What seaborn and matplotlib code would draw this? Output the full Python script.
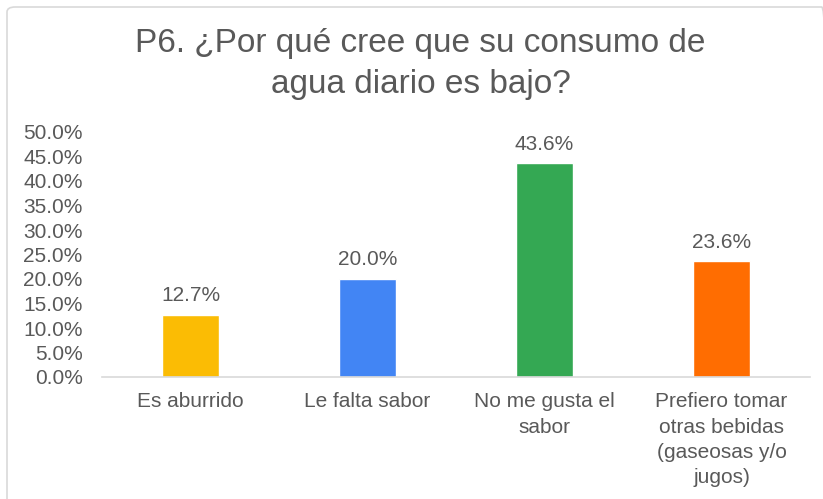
import matplotlib
matplotlib.use("Agg")
import matplotlib.pyplot as plt
import seaborn as sns
import pandas as pd
from matplotlib.patches import FancyBboxPatch

categories = ["Es aburrido", "Le falta sabor", "No me gusta el\nsabor",
              "Prefiero tomar\notras bebidas\n(gaseosas y/o\njugos)"]
values = [12.7, 20.0, 43.6, 23.6]
colors = ["#FBBC04", "#4285F4", "#34A853", "#FF6D01"]
title = "P6. ¿Por qué cree que su consumo de\nagua diario es bajo?"

sns.set_style("white")
plt.rcParams["font.family"] = ["Liberation Sans", "DejaVu Sans"]
gray = "#595959"

df = pd.DataFrame({"cat": categories, "val": values})
fig = plt.figure(figsize=(8.23, 4.99), dpi=100)
ax = fig.add_axes([102/823, 1 - 377/499, (810-102)/823, (377-132)/499])
sns.barplot(data=df, x="cat", y="val", hue="cat", palette=colors, legend=False,
            width=0.32, ax=ax, saturation=1)
ax.set_ylim(0, 50)
ax.set_xlim(-0.5, 3.5)
ax.set_yticks([i * 5 for i in range(11)])
ax.set_yticklabels([f"{i*5:.1f}%" for i in range(11)])
ax.tick_params(axis="y", length=0, labelsize=15, labelcolor=gray, pad=14)
ax.tick_params(axis="x", length=0, labelsize=15, labelcolor=gray, pad=11)
for lbl in ax.get_xticklabels():
    lbl.set_linespacing(1.42)
ax.set_xlabel("")
ax.set_ylabel("")
for s in ["top", "right", "left"]:
    ax.spines[s].set_visible(False)
ax.spines["bottom"].set_color("#D9D9D9")
ax.spines["bottom"].set_linewidth(1.2)
for i, v in enumerate(values):
    ax.annotate(f"{v:.1f}%", (i, v), xytext=(0, 7), textcoords="offset points",
                ha="center", va="bottom", fontsize=15, color=gray)

fig.text(0.511, 1 - 64/499, title, ha="center", va="center", fontsize=24,
         color=gray, linespacing=1.45)

border = FancyBboxPatch((7/823, -0.05), 1.0, 1 - 7/499 + 0.05,
                        boxstyle="round,pad=0,rounding_size=0.01",
                        transform=fig.transFigure, fill=False,
                        edgecolor="#D9D9D9", linewidth=1.2, clip_on=False)
fig.patches.append(border)

fig.savefig("out.png", dpi=100)
